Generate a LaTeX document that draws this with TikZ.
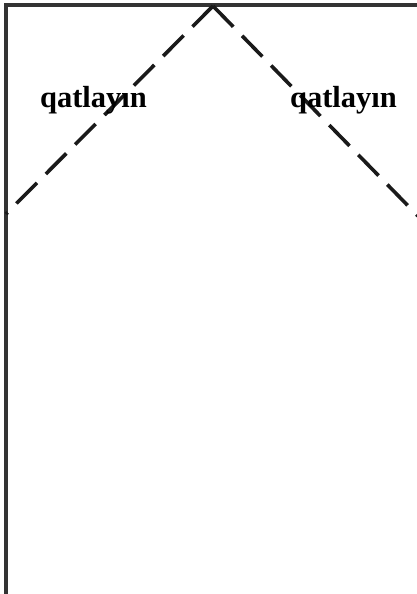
\documentclass[tikz,border=0pt]{standalone}
\usepackage{fontspec}
\setmainfont{Liberation Serif}
\definecolor{framegray}{HTML}{333333}
\definecolor{foldink}{HTML}{1A1A1A}
\tikzset{
  frameline/.style={draw=framegray, line width=3.2pt},
  foldline/.style={draw=foldink, line width=3.6pt, dash pattern=on 29pt off 12.6pt},
  foldlabel/.style={anchor=base, inner sep=0pt, font=\fontsize{30.5}{36}\selectfont\bfseries, text=black}
}
\begin{document}
\begin{tikzpicture}[x=1pt,y=-1pt]
\useasboundingbox (0,0) rectangle (417,594);
\fill[white] (0,0) rectangle (417,594);
% frame
\coordinate (tl) at (6,5);
\coordinate (bl) at (6,594);
\coordinate (tr) at (417,5);
\draw[frameline] (bl) -- (tl) -- (tr);
% fold lines
\coordinate (apex) at (213,6);
\coordinate (L) at (6,214);
\coordinate (R) at (418,216);
\draw[foldline] (apex) -- (L);
\draw[foldline] (apex) -- (R);
% labels
\node[foldlabel] (ql) at (93.5,107) {qatlayın};
\node[foldlabel] (qr) at (343.5,107) {qatlayın};
\end{tikzpicture}
\end{document}
